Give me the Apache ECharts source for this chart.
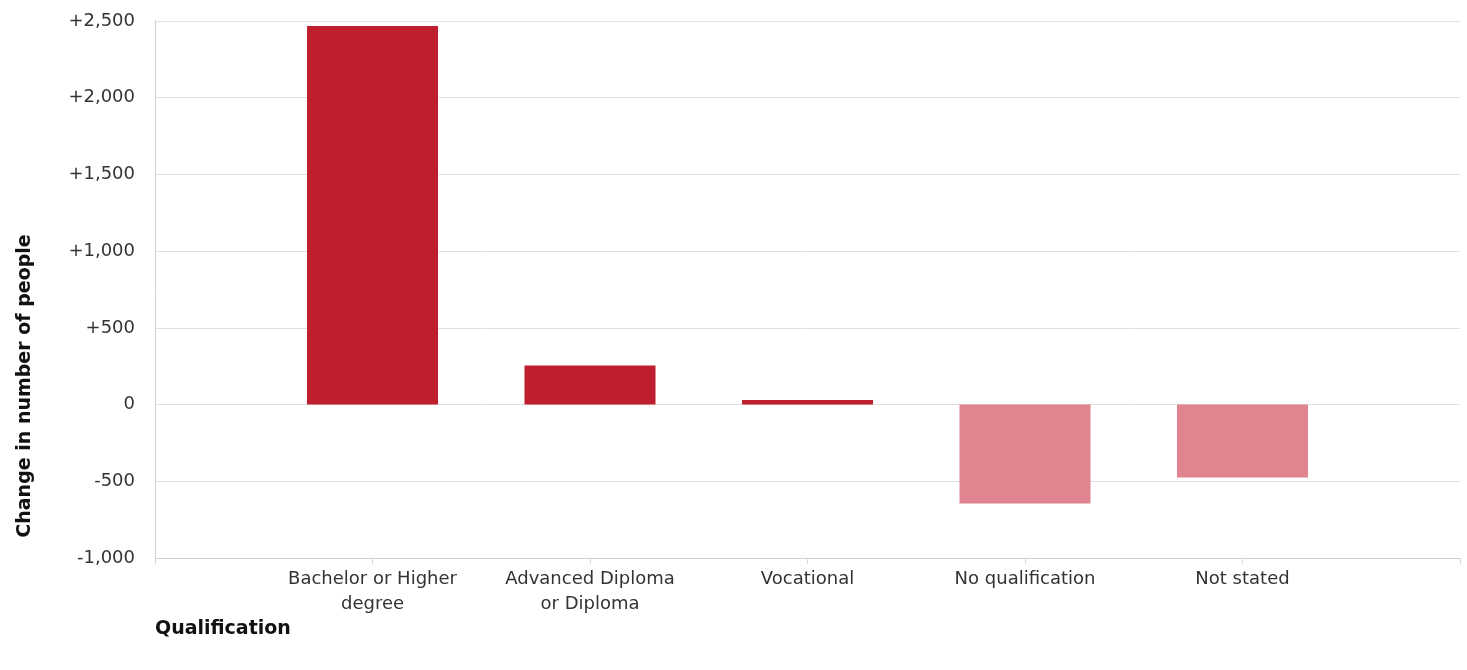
<!DOCTYPE html>
<html>
<head>
<meta charset="utf-8">
<script src="https://cdn.jsdelivr.net/npm/echarts@6/dist/echarts.min.js"></script>
<style>
  html, body { margin: 0; padding: 0; background: #fff; }
  #chart { width: 1467px; height: 670px; }
</style>
</head>
<body>
<div id="chart"></div>
<script>
// categories and values
const categories = ['Bachelor or Higher\ndegree', 'Advanced Diploma\nor Diploma', 'Vocational', 'No qualification', 'Not stated'];
const changes = [2467, 254, 30, -645, -475];
const yTicks = { min: -1000, max: 2500, interval: 500 };

const FONT = 'DejaVu Sans, Verdana, sans-serif';
const chart = echarts.init(document.getElementById('chart'));

const fmt = function (v) {
  if (v === 0) return '0';
  const s = Math.abs(v).toLocaleString('en-US');
  return (v > 0 ? '+' : '-') + s;
};

const option = {
  animation: false,
  textStyle: { fontFamily: FONT },
  grid: { left: 155, right: 7, top: 21, bottom: 112 },
  xAxis: {
    type: 'value',
    min: 0,
    max: categories.length + 1,
    interval: 1,
    splitLine: { show: false },
    axisLine: { show: true, onZero: false, lineStyle: { color: '#cfcfcf' } },
    axisTick: { show: true, length: 6, lineStyle: { color: '#d8d8d8' } },
    axisLabel: {
      color: '#333',
      fontSize: 18,
      lineHeight: 25,
      margin: 9,
      formatter: function (v) {
        return categories[v - 1] || '';
      }
    }
  },
  yAxis: {
    type: 'value',
    min: yTicks.min,
    max: yTicks.max,
    interval: yTicks.interval,
    axisLine: { show: true, lineStyle: { color: '#cfcfcf' } },
    axisTick: { show: false },
    axisLabel: { color: '#333', fontSize: 18, margin: 20, formatter: fmt },
    splitLine: { lineStyle: { color: '#e0e0e0' } }
  },
  graphic: [
    {
      type: 'text',
      left: 155,
      top: 620,
      style: { text: 'Qualification', fontSize: 19, fontWeight: 'bold', fill: '#111', fontFamily: FONT }
    },
    {
      type: 'text',
      x: 25,
      y: 386,
      rotation: Math.PI / 2,
      style: {
        text: 'Change in number of people',
        fontSize: 19,
        fontWeight: 'bold',
        fill: '#111',
        align: 'center',
        verticalAlign: 'middle',
        fontFamily: FONT
      }
    }
  ],
  series: [
    {
      type: 'bar',
      barWidth: 131,
      data: changes.map(function (v, i) {
        return {
          value: [i + 1, v],
          itemStyle: { color: v >= 0 ? '#be1e2d' : '#e0848f' }
        };
      })
    }
  ]
};

chart.setOption(option);
</script>
</body>
</html>
